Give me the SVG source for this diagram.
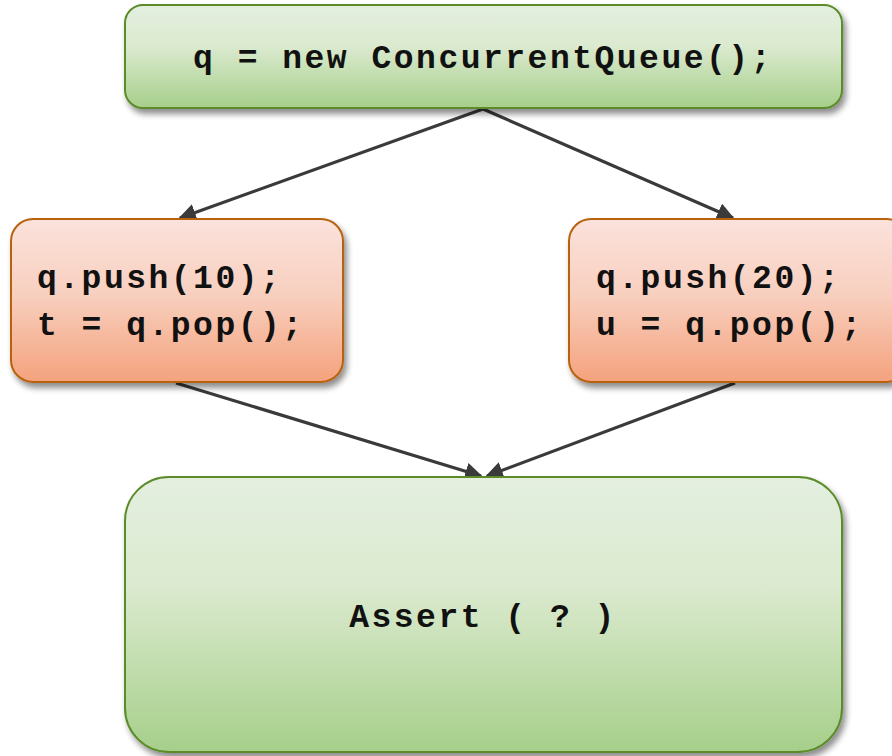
<svg xmlns="http://www.w3.org/2000/svg" width="892" height="756" viewBox="0 0 892 756">
<defs>
<linearGradient id="gGreen" x1="0" y1="0" x2="0" y2="1">
<stop offset="0" stop-color="#e4efe0"/>
<stop offset="0.4" stop-color="#dbeacf"/>
<stop offset="1" stop-color="#a6cf8a"/>
</linearGradient>
<linearGradient id="gOrange" x1="0" y1="0" x2="0" y2="1">
<stop offset="0" stop-color="#fbe2dc"/>
<stop offset="0.45" stop-color="#f8d0c0"/>
<stop offset="1" stop-color="#f4a27d"/>
</linearGradient>
<filter id="shadow" x="-10%" y="-10%" width="130%" height="140%">
<feGaussianBlur in="SourceAlpha" stdDeviation="3"/>
<feOffset dx="3" dy="5" result="b"/>
<feComponentTransfer><feFuncA type="linear" slope="0.45"/></feComponentTransfer>
<feMerge><feMergeNode/><feMergeNode in="SourceGraphic"/></feMerge>
</filter>
<marker id="arr" viewBox="0 0 10 10" refX="9" refY="5" markerWidth="5.5" markerHeight="5.5" orient="auto" markerUnits="strokeWidth">
<path d="M0,0 L10,5 L0,10 z" fill="#3a3a3a"/>
</marker>
<style>
.green{fill:url(#gGreen);stroke:#5b8c2a;stroke-width:2;filter:url(#shadow)}
.orange{fill:url(#gOrange);stroke:#b9620f;stroke-width:2;filter:url(#shadow)}
.t{font-family:"Liberation Mono","Courier New",monospace;font-weight:bold;font-size:33px;letter-spacing:2.5px;fill:#111}
.c{stroke:#3a3a3a;stroke-width:3.2;fill:none;marker-end:url(#arr)}
</style>
</defs>
<g id="connectors">
<line class="c" x1="483" y1="109" x2="180" y2="218"/>
<line class="c" x1="483" y1="109" x2="733" y2="218"/>
<line class="c" x1="176" y1="383" x2="481" y2="476"/>
<line class="c" x1="735" y1="383" x2="487" y2="476"/>
</g>
<g id="init">
<rect class="green" x="125" y="5" width="717" height="103" rx="18"/>
<text class="t" x="483" y="68" text-anchor="middle">q = new ConcurrentQueue();</text>
</g>
<g id="thread1">
<rect class="orange" x="11" y="219" width="332" height="163" rx="22"/>
<text class="t" x="37" y="288">q.push(10);</text>
<text class="t" x="37" y="335">t = q.pop();</text>
</g>
<g id="thread2">
<rect class="orange" x="569" y="219" width="340" height="163" rx="22"/>
<text class="t" x="596" y="288">q.push(20);</text>
<text class="t" x="596" y="335">u = q.pop();</text>
</g>
<g id="assert">
<rect class="green" x="125" y="477" width="717" height="275" rx="44"/>
<text class="t" x="483" y="627" text-anchor="middle">Assert ( ? )</text>
</g>
</svg>
